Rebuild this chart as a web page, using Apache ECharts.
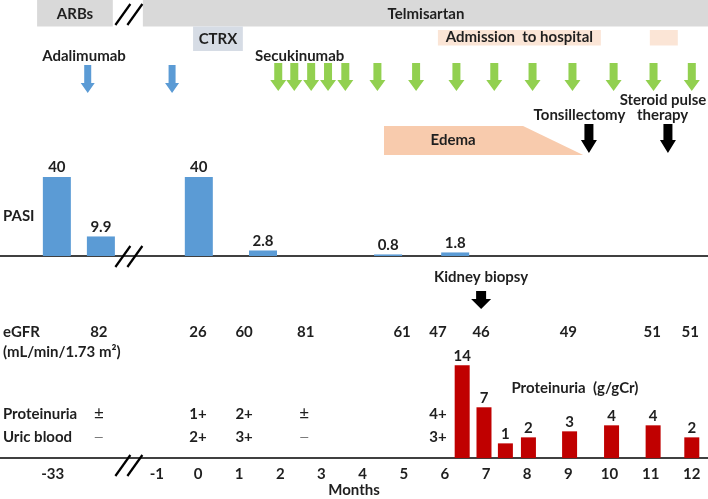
<!DOCTYPE html>
<html><head><meta charset="utf-8">
<script src="https://cdn.jsdelivr.net/npm/echarts@6/dist/echarts.min.js"></script>
<style>html,body{margin:0;padding:0;background:#fff}#c{width:708px;height:499px}</style>
</head><body><div id="c"></div>
<script>
// ---------- DATA (x positions are in display-months of the timeline axis) ----------
const tickPos = [-3.53, -1, 0, 1, 2, 3, 4, 5, 6, 7, 8, 9, 10, 11, 12];
const tickLabels = ['-33', '-1', '0', '1', '2', '3', '4', '5', '6', '7', '8', '9', '10', '11', '12'];
const pasiPos = [-3.43, -2.36, 0.02, 1.58, 4.62, 6.25];
const pasiVal = [40, 9.9, 40, 2.8, 0.8, 1.8];
const protPos = [6.42, 6.95, 7.47, 8.03, 9.03, 10.05, 11.06, 12.0];
const protVal = [14, 7, 1, 2, 3, 4, 4, 2];
const egfrPos = [-2.41, 0, 1.12, 2.62, 4.96, 5.83, 6.88, 9.0, 11.04, 11.96];
const egfrVal = [82, 26, 60, 81, 61, 47, 46, 49, 51, 51];
const dipPos = [-2.41, 0, 1.12, 2.58, 5.83];
const dipProteinuria = ['±', '1+', '2+', '±', '4+'];
const dipUricBlood = ['—', '2+', '3+', '—', '3+'];
const adalimumabPos = [-2.68, -0.63];
const secukinumabPos = [1.95, 2.34, 2.75, 3.16, 3.58, 4.36, 5.30, 6.28, 7.20, 8.13, 9.10, 10.10, 11.07, 12.0];
const tonsillectomyPos = 9.50;
const steroidPos = 11.42;
const biopsyPos = 6.88;
const arbsSpan = [-3.91, -2.07];
const telmisartanSpan = [-1.34, 12.40];
const ctrxSpan = [-0.12, 1.09];
const admissionSpans = [[5.83, 9.79], [10.98, 11.66]];
const edemaSpan = [4.52, 7.90, 9.36];
const breakPos = -1.68;

// ---------- LAYOUT ----------
const PX = 41.15, X0 = 198, W = 708;
const XMIN = -X0 / PX, XMAX = (W - X0) / PX;
const FONT = 'Lato, "Open Sans", sans-serif';
const FS = 15;
const TXT = '#1f1f1f';
const BLUE = '#5b9bd5', GREEN = '#92d050', RED = '#c00000', GRAY = '#d9d9d9';
const PROT_AXIS_MIN = -1.45;   // red bars rise from the panel floor

const items = [];
function rect(span, y0, y1, color) { items.push({ t: 'rect', x0: span[0], x1: span[1], y0, y1, color }); }
function arrow(x, y0, y1, sw, hw, hl, color) { items.push({ t: 'arrow', x, y0, y1, sw, hw, hl, color }); }
function text(x, y, s, opt) { items.push(Object.assign({ t: 'text', x, y, s }, opt || {})); }

rect(arbsSpan, 0, 26.5, GRAY);
rect(telmisartanSpan, 0, 26.5, GRAY);
rect(ctrxSpan, 26.5, 51, '#d6dce5');
admissionSpans.forEach(s => rect(s, 30, 45.5, '#fbe5d6'));
items.push({ t: 'poly', pts: [[edemaSpan[0], 126], [edemaSpan[1], 126], [edemaSpan[2], 155], [edemaSpan[0], 155]], color: '#f8cbad' });
adalimumabPos.forEach(p => arrow(p, 65, 93, 3.5, 7, 10, BLUE));
secukinumabPos.forEach(p => arrow(p, 63, 91, 4, 8, 11, GREEN));
arrow(tonsillectomyPos, 124, 153, 4.5, 8, 13, '#000');
arrow(steroidPos, 124, 153, 4.5, 8, 13, '#000');
arrow(biopsyPos, 291, 309, 5, 10, 10, '#000');
[14.5, 256.5, 465.5].forEach(y => items.push({ t: 'break', x: breakPos, y }));

const LEFT = -4.74;
text((arbsSpan[0] + arbsSpan[1]) / 2, 14, 'ARBs');
text(5.54, 14, 'Telmisartan');
text((ctrxSpan[0] + ctrxSpan[1]) / 2, 39, 'CTRX');
text((admissionSpans[0][0] + admissionSpans[0][1]) / 2, 37.5, 'Admission  to hospital');
text(-2.77, 56, 'Adalimumab');
text(2.47, 56, 'Secukinumab');
text(9.27, 115, 'Tonsillectomy');
text(11.30, 100, 'Steroid pulse');
text(11.29, 115, 'therapy');
text(6.20, 140, 'Edema');
text(LEFT, 216, 'PASI', { align: 'left' });
text(LEFT, 332, 'eGFR', { align: 'left' });
text(LEFT, 352, '(mL/min/1.73 m²)', { align: 'left' });
text(LEFT, 414, 'Proteinuria', { align: 'left' });
text(LEFT, 437, 'Uric blood', { align: 'left' });
text(biopsyPos, 277, 'Kidney biopsy');
text(9.16, 388, 'Proteinuria  (g/gCr)');
egfrPos.forEach((p, i) => text(p, 332, String(egfrVal[i])));
dipPos.forEach((p, i) => text(p, 414, dipProteinuria[i], dipProteinuria[i] === '±' ? { weight: 'normal', size: 17 } : {}));
dipPos.forEach((p, i) => text(p, 437, dipUricBlood[i], dipUricBlood[i] === '—' ? { weight: 'normal', size: 12, color: '#555' } : {}));

function renderItem(params, api) {
  const it = items[params.dataIndex];
  if (it.t === 'rect') {
    const a = api.coord([it.x0, it.y0]), b = api.coord([it.x1, it.y1]);
    return { type: 'rect', shape: { x: a[0], y: a[1], width: b[0] - a[0], height: b[1] - a[1] }, style: { fill: it.color } };
  }
  if (it.t === 'poly') {
    return { type: 'polygon', shape: { points: it.pts.map(p => api.coord(p)) }, style: { fill: it.color } };
  }
  if (it.t === 'arrow') {
    const a = api.coord([it.x, it.y0]), b = api.coord([it.x, it.y1]);
    const cx = a[0], t = a[1], bt = b[1], hs = bt - it.hl;
    return { type: 'polygon', shape: { points: [[cx - it.sw, t], [cx + it.sw, t], [cx + it.sw, hs], [cx + it.hw, hs], [cx, bt], [cx - it.hw, hs], [cx - it.sw, hs]] }, style: { fill: it.color } };
  }
  if (it.t === 'break') {
    const c = api.coord([it.x, it.y]);
    const mk = dx => ({ type: 'line', shape: { x1: c[0] + dx - 7.5, y1: c[1] + 10.5, x2: c[0] + dx + 7.5, y2: c[1] - 10.5 }, style: { stroke: '#000', lineWidth: 2.2 } });
    return { type: 'group', children: [mk(-6), mk(6)] };
  }
  if (it.t === 'text') {
    const c = api.coord([it.x, it.y]);
    return { type: 'text', x: c[0], y: c[1], style: { text: it.s, fill: it.color || TXT, font: (it.weight || 'bold') + ' ' + (it.size || FS) + 'px ' + FONT, align: it.align || 'center', verticalAlign: 'middle' } };
  }
}

// red proteinuria bars: drawn from the axis floor to the value through the y scale
function renderProt(params, api) {
  const x = api.value(0), v = api.value(1);
  const top = api.coord([x, v]), bot = api.coord([x, PROT_AXIS_MIN]);
  const bw = 15;
  return { type: 'group', children: [
    { type: 'rect', shape: { x: top[0] - bw / 2, y: top[1], width: bw, height: bot[1] - top[1] }, style: { fill: RED } },
    { type: 'text', x: top[0], y: top[1] - 2, style: { text: String(v), fill: TXT, font: 'bold ' + FS + 'px ' + FONT, align: 'center', verticalAlign: 'bottom' } }
  ] };
}

const labelStyle = { show: true, position: 'top', distance: 2, color: TXT, fontFamily: FONT, fontWeight: 'bold', fontSize: FS };

const chart = echarts.init(document.getElementById('c'), null, { renderer: 'canvas' });
chart.setOption({
  animation: false,
  backgroundColor: '#fff',
  grid: [
    { left: 0, right: 0, top: 0, bottom: 0 },
    { left: 0, right: 0, top: 100, bottom: 243 },
    { left: 0, right: 0, top: 300, bottom: 36 }
  ],
  xAxis: [
    { gridIndex: 0, type: 'value', min: XMIN, max: XMAX, show: false },
    { gridIndex: 1, type: 'value', min: XMIN, max: XMAX, axisLine: { show: true, onZero: false, lineStyle: { color: '#000', width: 1.5 } }, axisTick: { show: false }, axisLabel: { show: false }, splitLine: { show: false } },
    { gridIndex: 2, type: 'value', min: XMIN, max: XMAX,
      axisLine: { show: true, onZero: false, lineStyle: { color: '#000', width: 1.5 } }, axisTick: { show: false }, splitLine: { show: false },
      axisLabel: { show: true, customValues: tickPos, margin: 9, color: TXT, fontFamily: FONT, fontWeight: 'bold', fontSize: FS,
        formatter: v => { let bi = 0; tickPos.forEach((p, i) => { if (Math.abs(p - v) < Math.abs(tickPos[bi] - v)) bi = i; }); return tickLabels[bi]; } },
      name: 'Months', nameLocation: 'middle', nameGap: 22, nameTextStyle: { color: TXT, fontFamily: FONT, fontWeight: 'bold', fontSize: FS } }
  ],
  yAxis: [
    { gridIndex: 0, type: 'value', min: 0, max: 499, inverse: true, show: false },
    { gridIndex: 1, type: 'value', min: 0, max: 79, show: false },
    { gridIndex: 2, type: 'value', min: PROT_AXIS_MIN, max: 24.84, show: false }
  ],
  series: [
    { type: 'custom', xAxisIndex: 0, yAxisIndex: 0, renderItem, clip: false, silent: true,
      data: items.map(it => [it.x !== undefined ? it.x : (it.x0 !== undefined ? it.x0 : 0), it.y !== undefined ? it.y : (it.y0 !== undefined ? it.y0 : 0)]) },
    { type: 'bar', xAxisIndex: 1, yAxisIndex: 1, barWidth: 28, itemStyle: { color: BLUE },
      data: pasiPos.map((p, i) => [p, pasiVal[i]]), label: Object.assign({}, labelStyle, { formatter: p => String(p.value[1]) }) },
    { type: 'custom', xAxisIndex: 2, yAxisIndex: 2, renderItem: renderProt, clip: false, silent: true,
      data: protPos.map((p, i) => [p, protVal[i]]) }
  ]
});
</script>
</body></html>
